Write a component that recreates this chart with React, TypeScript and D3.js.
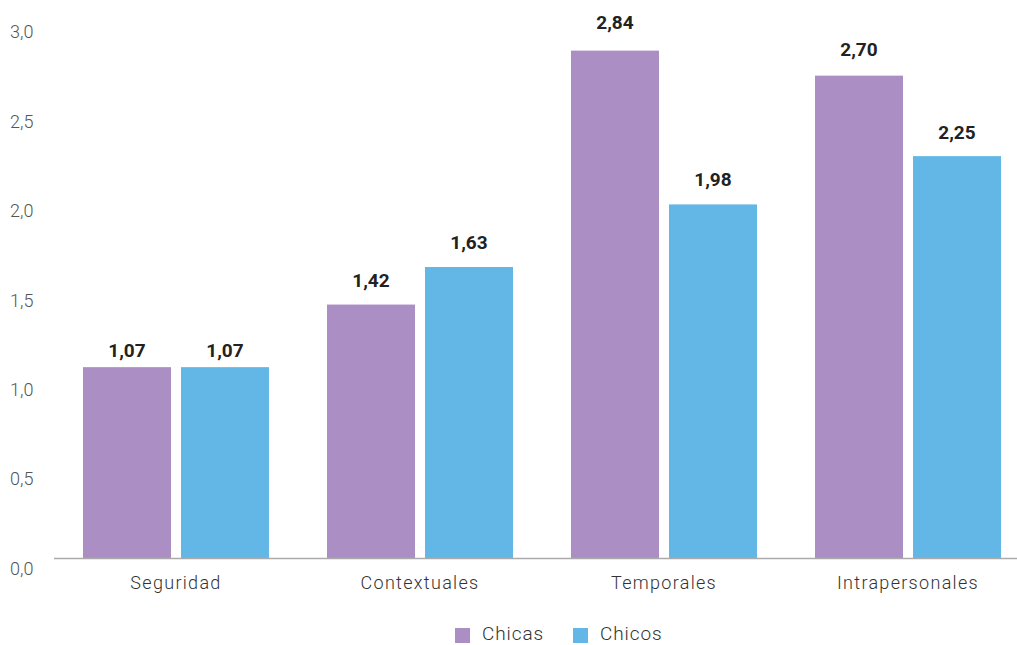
import React from "react";
import * as d3 from "d3";

const categories = ["Seguridad", "Contextuales", "Temporales", "Intrapersonales"];
const seriesNames = ["Chicas", "Chicos"];
const chicas = [1.07, 1.42, 2.84, 2.7];
const chicos = [1.07, 1.63, 1.98, 2.25];
const yTicks = [0, 0.5, 1, 1.5, 2, 2.5, 3];
const colors = ["#AB8FC4", "#63B7E6"];

const W = 1017;
const H = 645;
const FONT = "Roboto, 'DejaVu Sans', sans-serif";
// distance (px) from each bar top to the centre of its value label
const LABEL_LIFT = [
  [17, 17],
  [24, 25],
  [28, 25],
  [26, 24],
];
const fmt = (v: number, d: number) => v.toFixed(d).replace(".", ",");

export default function App() {
  const x = d3
    .scaleBand<string>()
    .domain(categories)
    .range([54, 1030])
    .paddingInner(58 / 244)
    .paddingOuter(29 / 244);
  const x1 = d3.scaleBand<string>().domain(seriesNames).range([0, x.bandwidth()]).paddingInner(10 / 98);
  const y = d3.scaleLinear().domain([0, 3]).range([558.5, 22]);
  const series = [chicas, chicos];

  return (
    <svg width={W} height={H} style={{ position: "absolute", left: 0, top: 0 }} fontFamily={FONT}>
      <rect width={W} height={H} fill="#fff" />
      {yTicks.map((t) => (
        <text key={t} x={10} y={y(t) + 10} dy="0.35em" fontSize={18} fontWeight={300} fill="#555">
          {fmt(t, 1)}
        </text>
      ))}
      {categories.map((c, i) => (
        <g key={c} transform={`translate(${x(c)},0)`}>
          {series.map((s, j) => {
            const bx = x1(seriesNames[j])!;
            return (
              <g key={j}>
                <rect x={bx} y={y(s[i])} width={x1.bandwidth()} height={y(0) - y(s[i])} fill={colors[j]} />
                <text
                  x={bx + x1.bandwidth() / 2}
                  y={y(s[i]) - LABEL_LIFT[i][j]}
                  dy="0.35em"
                  textAnchor="middle"
                  fontSize={19}
                  fontWeight="bold"
                  fill="#222"
                >
                  {fmt(s[i], 2)}
                </text>
              </g>
            );
          })}
          <text
            x={x.bandwidth() / 2}
            y={583}
            dy="0.35em"
            textAnchor="middle"
            fontSize={18}
            fontWeight={300}
            fill="#333"
            letterSpacing="1.3"
          >
            {c}
          </text>
        </g>
      ))}
      <line x1={54} x2={W} y1={558.5} y2={558.5} stroke="#aaa" strokeWidth={1.5} />
      <g>
        {seriesNames.map((n, j) => {
          const lx = j === 0 ? 455 : 573;
          return (
            <g key={n}>
              <rect x={lx} y={628} width={15} height={15} fill={colors[j]} />
              <text x={lx + 27} y={633} dy="0.35em" fontSize={19} fontWeight={300} fill="#333" letterSpacing="0.9">
                {n}
              </text>
            </g>
          );
        })}
      </g>
    </svg>
  );
}
